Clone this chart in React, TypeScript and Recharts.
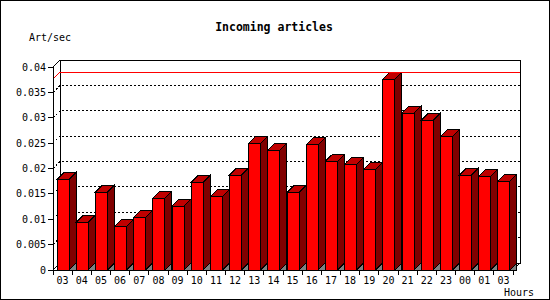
import { BarChart, Bar, XAxis, YAxis, CartesianGrid, ReferenceLine } from "recharts";

const hours = ["03", "04", "05", "06", "07", "08", "09", "10", "11", "12", "13", "14", "15", "16", "17", "18", "19", "20", "21", "22", "23", "00", "01", "03"];
const artPerSec = [0.0178, 0.0094, 0.0153, 0.0086, 0.0104, 0.0141, 0.0126, 0.0173, 0.0145, 0.0187, 0.025, 0.0236, 0.0153, 0.0247, 0.0214, 0.0208, 0.0198, 0.0376, 0.0309, 0.0295, 0.0263, 0.0187, 0.0185, 0.0175];
const yTicks = [0, 0.005, 0.01, 0.015, 0.02, 0.025, 0.03, 0.035, 0.04];

const FONT = '"DejaVu Sans Mono", "Liberation Mono", monospace';
const DEPTH = 7;

const data = hours.map((h, i) => ({ hour: h, rate: artPerSec[i] }));
const maxRate = Math.max(...artPerSec);

// front face + top + right side, jpgraph style
function Bar3D(props: any) {
  const { x, y, width: w, height: h } = props;
  const d = DEPTH;
  const base = y + h;
  return (
    <g stroke="#000" strokeWidth={1}>
      <polygon points={`${x + w},${base} ${x + w + d},${base - d} ${x + w + d},${base}`} fill="#808080" />
      <polygon points={`${x + w},${y} ${x + w + d},${y - d} ${x + w + d},${base - d} ${x + w},${base}`} fill="#800000" />
      <polygon points={`${x},${y} ${x + d},${y - d} ${x + w + d},${y - d} ${x + w},${y}`} fill="#c00000" />
      <rect x={x} y={y} width={w} height={h} fill="#ff0000" />
    </g>
  );
}

function gridLine(p: any) {
  const { x1, x2, y1, y: top, height, index } = p;
  const d = DEPTH;
  const bottom = top + height;
  if (Math.abs(y1 - top) < 0.5) {
    // back wall frame
    return (
      <g key={`g-${index}`} fill="none" stroke="#000">
        <rect x={x1 + d} y={top - d} width={x2 - x1} height={height} />
        <line x1={x1} y1={top} x2={x1 + d} y2={top - d} />
      </g>
    );
  }
  if (Math.abs(y1 - bottom) < 0.5) {
    return (
      <g key={`g-${index}`} fill="none" stroke="#000">
        <line x1={x1} y1={bottom} x2={x1 + d} y2={bottom - d} />
        <line x1={x2} y1={bottom} x2={x2 + d} y2={bottom - d} />
      </g>
    );
  }
  return (
    <path
      key={`g-${index}`}
      d={`M${x1},${y1} L${x1 + d},${y1 - d} L${x2 + d},${y1 - d}`}
      fill="none"
      stroke="#000"
      strokeDasharray="2 2"
    />
  );
}

function MaxLine(p: any) {
  const { x1, y1, x2, y2 } = p;
  const d = DEPTH;
  return <path d={`M${x1},${y1} L${x1 + d},${y1 - d} L${x2 + d},${y2 - d}`} fill="none" stroke="#ff0000" />;
}

function HourTick(props: any) {
  const { x, y, payload, index, visibleTicksCount } = props;
  const half = payload?.offset ?? 9.58;
  const axisY = y - 6;
  return (
    <g>
      <line x1={x - half} y1={axisY} x2={x - half} y2={axisY + 5} stroke="#000" />
      {index === visibleTicksCount - 1 && (
        <line x1={x + half} y1={axisY} x2={x + half} y2={axisY + 5} stroke="#000" />
      )}
      <text x={x} y={y + 7.5} textAnchor="middle" fill="#000" fontSize={10} fontFamily={FONT}>
        {payload.value}
      </text>
    </g>
  );
}

export default function App() {
  return (
    <div style={{ position: "absolute", left: 0, top: 0, width: 550, height: 300, background: "#fff" }}>
      <div style={{ position: "absolute", left: 0, top: 0, shapeRendering: "crispEdges" } as any}>
        <BarChart width={550} height={300} data={data} margin={{ top: 67, right: 37, bottom: 0, left: 8 }}>
          <CartesianGrid vertical={false} horizontal={gridLine} />
          <ReferenceLine y={maxRate} shape={MaxLine} />
          <XAxis
            dataKey="hour"
            interval={0}
            height={30}
            tickSize={5}
            tickMargin={1}
            tickLine={false}
            axisLine={{ stroke: "#000" }}
            tick={HourTick}
          />
          <YAxis
            domain={[0, 0.04]}
            ticks={yTicks}
            interval={0}
            width={45}
            tickSize={5}
            tickMargin={2}
            axisLine={{ stroke: "#000" }}
            tickLine={{ stroke: "#000" }}
            tick={{ fill: "#000", fontSize: 10, fontFamily: FONT }}
          />
          <Bar dataKey="rate" barSize={12} shape={Bar3D} isAnimationActive={false} />
        </BarChart>
      </div>
      <svg width={550} height={300} style={{ position: "absolute", left: 0, top: 0, pointerEvents: "none" }}>
        <rect x={0.5} y={0.5} width={549} height={299} fill="none" stroke="#000" />
        <text x={274} y={31} textAnchor="middle" fontFamily={FONT} fontWeight="bold" fontSize={11.5} fill="#000">
          Incoming articles
        </text>
        <text x={29} y={41} fontFamily={FONT} fontSize={10} fill="#000">
          Art/sec
        </text>
        <text x={504} y={296} fontFamily={FONT} fontSize={10} fill="#000">
          Hours
        </text>
      </svg>
    </div>
  );
}
